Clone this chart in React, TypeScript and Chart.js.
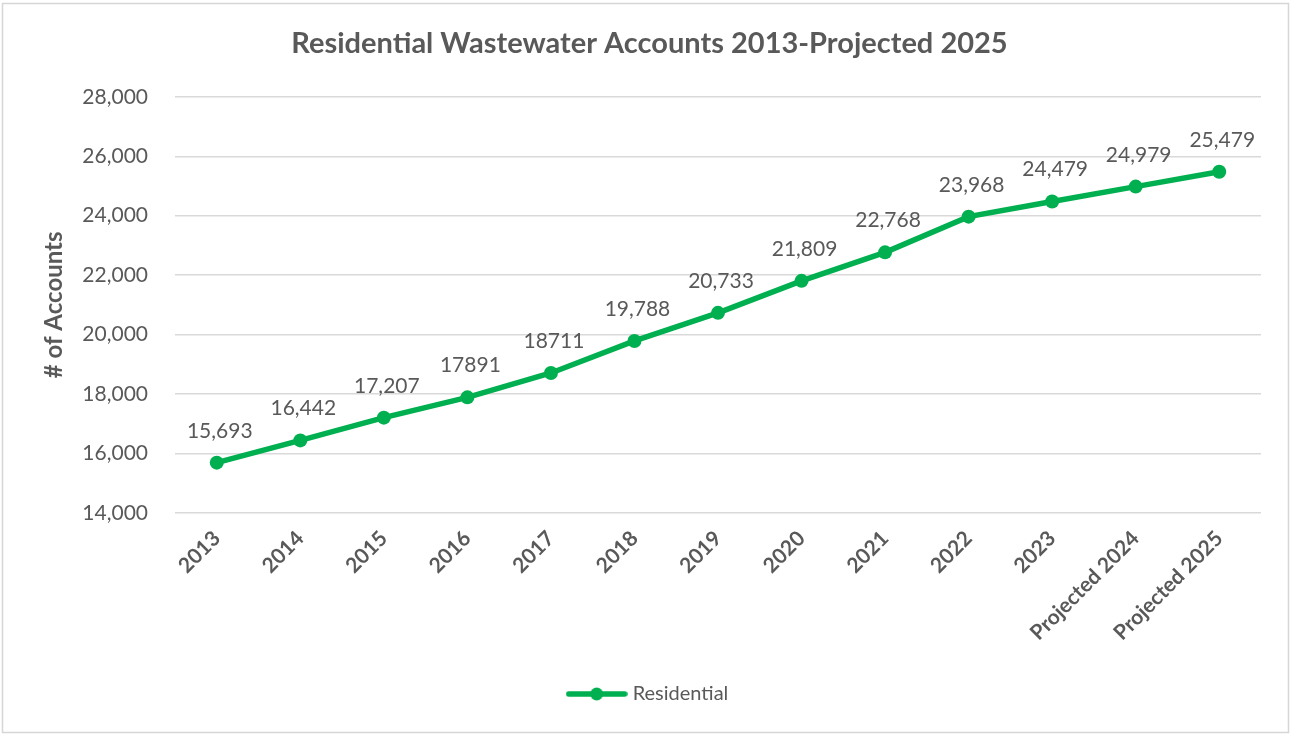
import React, { useEffect, useRef } from "react";
import { Chart, registerables } from "chart.js";

Chart.register(...registerables);

const categories = ["2013", "2014", "2015", "2016", "2017", "2018", "2019", "2020", "2021", "2022", "2023", "Projected 2024", "Projected 2025"];
const residential = [15693, 16442, 17207, 17891, 18711, 19788, 20733, 21809, 22768, 23968, 24479, 24979, 25479];
const valueLabels = ["15,693", "16,442", "17,207", "17891", "18711", "19,788", "20,733", "21,809", "22,768", "23,968", "24,479", "24,979", "25,479"];
const titleText = "Residential Wastewater Accounts 2013-Projected 2025";
const yTitle = "# of Accounts";
const seriesName = "Residential";

const GREEN = "#00b050";
const TEXT = "#595959";
const FONT = "Lato, 'Open Sans', sans-serif";

function makeLegendIcon(): HTMLCanvasElement {
  const c = document.createElement("canvas");
  c.width = 62;
  c.height = 16;
  const ctx = c.getContext("2d")!;
  ctx.strokeStyle = GREEN;
  ctx.lineWidth = 5.5;
  ctx.lineCap = "round";
  ctx.beginPath();
  ctx.moveTo(3, 8);
  ctx.lineTo(59, 8);
  ctx.stroke();
  ctx.fillStyle = GREEN;
  ctx.beginPath();
  ctx.arc(31, 8, 6.5, 0, Math.PI * 2);
  ctx.fill();
  return c;
}

const borderPlugin = {
  id: "outerBorder",
  afterDraw(chart: any) {
    const ctx = chart.ctx;
    ctx.save();
    ctx.strokeStyle = "#d6d6d6";
    ctx.lineWidth = 1.5;
    ctx.strokeRect(2.5, 3.5, 1286, 729);
    ctx.restore();
  },
};

const dataLabelPlugin = {
  id: "dataLabels",
  afterDatasetsDraw(chart: any) {
    const ctx = chart.ctx;
    const meta = chart.getDatasetMeta(0);
    ctx.save();
    ctx.fillStyle = TEXT;
    ctx.font = `21px ${FONT}`;
    ctx.textAlign = "center";
    ctx.textBaseline = "alphabetic";
    meta.data.forEach((pt: any, i: number) => {
      ctx.fillText(valueLabels[i], pt.x + 3, pt.y - 25);
    });
    ctx.restore();
  },
};

export default function App() {
  const ref = useRef<HTMLCanvasElement | null>(null);
  useEffect(() => {
    document.body.style.margin = "0";
    const icon = makeLegendIcon();
    const chart = new Chart(ref.current!, {
      type: "line",
      data: {
        labels: categories,
        datasets: [
          {
            label: seriesName,
            data: residential,
            borderColor: GREEN,
            backgroundColor: GREEN,
            borderWidth: 5.5,
            pointRadius: 7,
            pointBackgroundColor: GREEN,
            pointBorderWidth: 0,
            pointStyle: "circle",
            tension: 0,
          },
        ],
      },
      options: {
        responsive: false,
        animation: false,
        layout: { padding: { left: 38, right: 30, top: 0, bottom: 20 } },
        plugins: {
          title: {
            display: true,
            text: titleText,
            color: TEXT,
            font: { family: FONT, size: 29, weight: "bold" },
            padding: { top: 26, bottom: 36 },
          },
          legend: {
            display: true,
            position: "bottom",
            labels: {
              usePointStyle: true,
              pointStyleWidth: 52,
              boxHeight: 20,
              padding: 10,
              color: TEXT,
              font: { family: FONT, size: 20 },
              generateLabels: () => [
                {
                  text: seriesName,
                  fillStyle: GREEN,
                  strokeStyle: GREEN,
                  lineWidth: 0,
                  pointStyle: icon as any,
                  datasetIndex: 0,
                  fontColor: TEXT,
                } as any,
              ],
            },
          },
          tooltip: { enabled: false },
        },
        scales: {
          x: {
            offset: true,
            grid: { display: false },
            border: { display: false },
            ticks: {
              color: TEXT,
              font: { family: FONT, size: 21, weight: "bold" },
              minRotation: 45,
              maxRotation: 45,
              autoSkip: false,
              padding: 5,
            },
            afterFit: (s: any) => {
              s.height = 161;
            },
          },
          y: {
            min: 14000,
            max: 28000,
            grid: { color: "#d9d9d9", lineWidth: 1.5, drawTicks: false },
            border: { display: false },
            ticks: {
              stepSize: 2000,
              color: TEXT,
              padding: 27,
              font: { family: FONT, size: 21 },
              callback: (v: any) => Number(v).toLocaleString("en-US"),
            },
            title: {
              display: true,
              text: yTitle,
              color: TEXT,
              font: { family: FONT, size: 24, weight: "bold" },
              padding: { top: 2, bottom: 0 },
            },
            afterFit: (s: any) => {
              s.width = 137;
            },
          },
        },
      },
      plugins: [borderPlugin, dataLabelPlugin],
    });
    return () => chart.destroy();
  }, []);
  return (
    <div style={{ width: 1291, height: 734, background: "#fff" }}>
      <canvas ref={ref} width={1291} height={734} style={{ display: "block" }} />
    </div>
  );
}
